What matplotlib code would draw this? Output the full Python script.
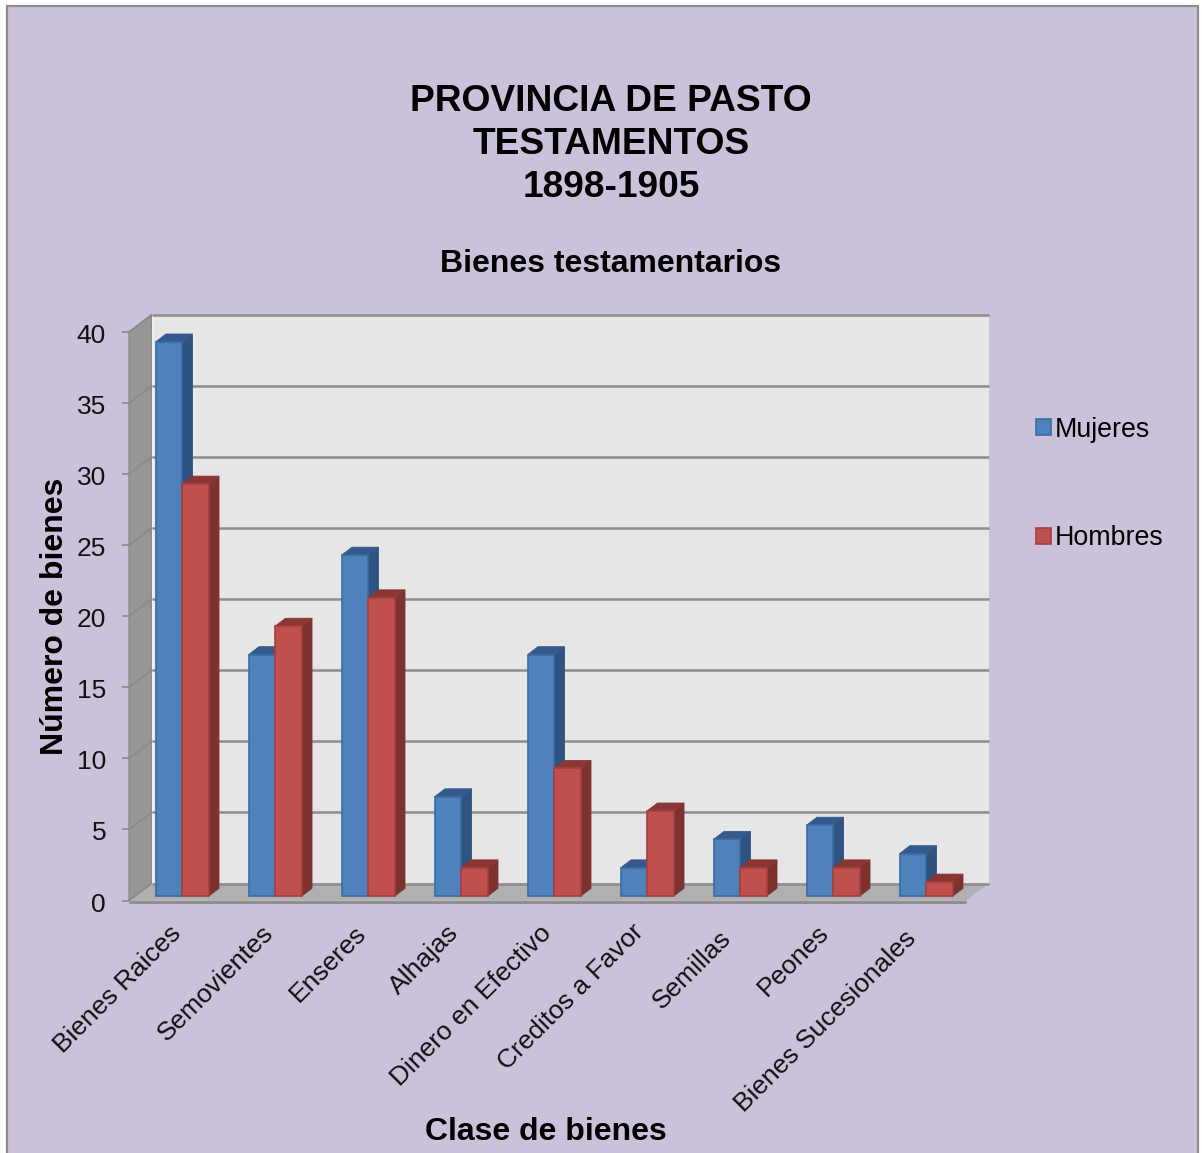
import matplotlib
matplotlib.use('Agg')
import matplotlib.pyplot as plt
from matplotlib.patches import Polygon, Rectangle
from matplotlib.transforms import Affine2D

plt.rcParams['font.family'] = ['Liberation Sans', 'DejaVu Sans']

categorias = ['Bienes Raices', 'Semovientes', 'Enseres', 'Alhajas', 'Dinero en Efectivo',
              'Creditos a Favor', 'Semillas', 'Peones', 'Bienes Sucesionales']
mujeres = [39, 17, 24, 7, 17, 2, 4, 5, 3]
hombres = [29, 19, 21, 2, 9, 6, 2, 2, 1]
y_ticks = [0, 5, 10, 15, 20, 25, 30, 35, 40]

W, H = 1202, 1153
X0, X1, Y0, Y40 = 129, 966, 900.5, 332

fig = plt.figure(figsize=(W / 100, H / 100), dpi=100, facecolor='white')

def fx(px):
    return px / W

def fy(py):
    return 1 - py / H

# fondo lila con borde gris
fig.patches.append(Rectangle((fx(7), fy(1160)), fx(1198 - 7), fy(6) - fy(1160),
                             transform=fig.transFigure, facecolor='#ccc1da',
                             edgecolor='#8c8c8c', linewidth=1.6, zorder=-1))

ax = fig.add_axes([fx(X0), fy(Y0), fx(X1 - X0), fy(Y40) - fy(Y0)])
ax.set_xlim(-0.5, 8.5)
ax.set_ylim(0, 40)
ax.patch.set_visible(False)
for s in ax.spines.values():
    s.set_visible(False)

# unidades de datos por pixel
ux = 9 / (X1 - X0)
uy = 40 / (Y0 - Y40)

# profundidad de la caja y de las barras, en pixeles
wall_dx, wall_dy = 22.5, 17
bar_dx, bar_dy = 10.5, 8
back = ax.transData + Affine2D().translate(wall_dx, wall_dy)

ax.add_patch(Rectangle((-0.5, 0), 9, 40, transform=back, facecolor='#e6e6e6',
                       edgecolor='none', zorder=1, clip_on=False))
ax.add_patch(Polygon([(-0.5, 0), (-0.5 + wall_dx * ux, wall_dy * uy),
                      (-0.5 + wall_dx * ux, 40 + wall_dy * uy), (-0.5, 40)],
                     facecolor='#969696', edgecolor='#8c8c8c', lw=1, zorder=1.2, clip_on=False))
ax.add_patch(Polygon([(-0.5, 0), (8.5, 0), (8.5 + wall_dx * ux, wall_dy * uy),
                      (-0.5 + wall_dx * ux, wall_dy * uy)],
                     facecolor='#b0b0b0', edgecolor='none', zorder=1.3, clip_on=False))
# borde frontal del piso
ax.plot([-0.5, 8.5], [-0.1, -0.1], color='#8f8f8f', lw=2.2, zorder=1.4, clip_on=False,
        solid_capstyle='butt')

# lineas de la pared
for v in y_ticks:
    ax.plot([-0.5, 8.5], [v, v], transform=back, color='#8c8c8c', lw=1.8, zorder=1.5,
            clip_on=False, solid_capstyle='butt')
    ax.plot([-0.5, -0.5 + wall_dx * ux], [v, v + wall_dy * uy], color='#8a8a8a', lw=1.3,
            zorder=1.4, clip_on=False)
ax.plot([-0.5 + wall_dx * ux] * 2, [0, 40], transform=ax.transData + Affine2D().translate(1, wall_dy),
        color='#f4f4f4', lw=1.2, zorder=1.35, clip_on=False)

def barra_3d(x, v, ancho, frente, lado, arriba, borde, z):
    dx = bar_dx * ux
    dy = bar_dy * uy
    izq = x
    der = x + ancho
    ax.add_patch(Polygon([(der, 0), (der + dx, dy), (der + dx, v + dy), (der, v)],
                         transform=bars, facecolor=lado, edgecolor=lado, lw=0.6,
                         zorder=z, clip_on=False))
    ax.add_patch(Polygon([(izq, v), (der, v), (der + dx, v + dy), (izq + dx, v + dy)],
                         transform=bars, facecolor=arriba, edgecolor=arriba, lw=0.6,
                         zorder=z, clip_on=False))
    return ax.bar(x, v, ancho, align='edge', transform=bars, facecolor=frente,
                  edgecolor=borde, linewidth=1.2, zorder=z + 0.01, clip_on=False)

bars = ax.transData + Affine2D().translate(6.5, 4.2)
ancho = 26.5 * ux
h1 = h2 = None
for i in range(len(categorias)):
    h1 = barra_3d(i - ancho, mujeres[i], ancho, '#4f81bd', '#2f5380', '#35598c', '#3a6ca3', 2 + i * 0.1)
    h2 = barra_3d(i, hombres[i], ancho, '#c0504d', '#7d3230', '#8a3634', '#a5403d', 2.05 + i * 0.1)

ax.set_xticks(range(len(categorias)))
ax.set_xticklabels(categorias, rotation=45, ha='right', rotation_mode='anchor', fontsize=19,
                   color='#111111')
ax.tick_params(axis='x', length=0, pad=11)
# ajuste fino de cada etiqueta en pixeles
nudge_x = [-7, -7, -8, -8, -8, -9, -15, -10, -16]
nudge_y = [-5, -5, -5, -5, -5, -4, -10, -5, -10]
for lab, nx, ny in zip(ax.get_xticklabels(), nudge_x, nudge_y):
    lab.set_transform(lab.get_transform() + Affine2D().translate(nx, ny))
ax.set_yticks(y_ticks)
ax.tick_params(axis='y', length=5, width=1.3, color='#8c8c8c', labelsize=19, labelcolor='#111111', pad=11.5)
for lab in ax.get_yticklabels():
    lab.set_transform(lab.get_transform() + Affine2D().translate(0, -1.5))

ax.set_xlabel('Clase de bienes', fontsize=23, fontweight='bold', color='black', va='center')
ax.xaxis.set_label_coords(fx(546), fy(1132), transform=fig.transFigure)
ax.set_ylabel('Número de bienes', fontsize=23, fontweight='bold', color='black', va='center')
ax.yaxis.set_label_coords(fx(55), fy(616), transform=fig.transFigure)

fig.text(fx(611), fy(144.5), 'PROVINCIA DE PASTO\nTESTAMENTOS\n1898-1905', ha='center', va='center',
         fontsize=26.7, fontweight='bold', color='black', linespacing=1.295)
fig.text(fx(610.5), fy(264), 'Bienes testamentarios', ha='center', va='center',
         fontsize=23, fontweight='bold', color='black')

fig.legend([h1, h2], ['Mujeres', 'Hombres'], loc='center left',
           bbox_to_anchor=(fx(1012), fy(484)), frameon=False, fontsize=19.3,
           labelspacing=3.08, handlelength=0.56, handleheight=0.56, handletextpad=0.15)

fig.savefig('out.png', dpi=100)
